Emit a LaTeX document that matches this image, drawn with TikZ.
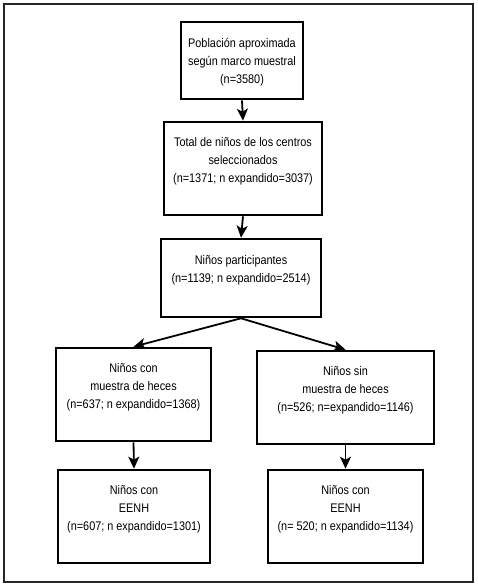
\documentclass[tikz,border=0pt]{standalone}
\usepackage{fontspec}
\setmainfont[FakeStretch=0.87]{Liberation Sans}
\usetikzlibrary{arrows.meta}
\begin{document}
\begin{tikzpicture}[x=1pt,y=-1pt,
  boxnode/.style={draw=black,line width=2.6pt,inner sep=0pt},
  txt/.style={align=center,font=\fontsize{12.5}{18}\selectfont,inner sep=0pt},
  arr/.style={line width=1.8pt,-{Stealth[length=12pt,width=11pt,inset=3pt]}}]
\useasboundingbox (0,0) rectangle (477,585);
\draw[line width=1.2pt,draw=black!85] (4,4) rectangle (473,582);
\node[boxnode,minimum width=122pt,minimum height=77pt] (b1) at (242,60.5) {};
\node[boxnode,minimum width=158pt,minimum height=93pt] (b2) at (243,168.5) {};
\node[boxnode,minimum width=160pt,minimum height=78pt] (b3) at (241,278) {};
\node[boxnode,minimum width=155pt,minimum height=93pt] (b4) at (133.5,394.5) {};
\node[boxnode,minimum width=177pt,minimum height=93pt] (b5) at (345.5,397.5) {};
\node[boxnode,minimum width=152pt,minimum height=93pt] (b6) at (134,516.5) {};
\node[boxnode,minimum width=155pt,minimum height=93pt] (b7) at (345.5,516.5) {};
\node[txt] (t1) at (242,62) {Población aproximada\\según marco muestral\\(n=3580)};
\node[txt] (t2) at (243,161) {Total de niños de los centros\\seleccionados\\(n=1371; n expandido=3037)};
\node[txt] (t3) at (241,270) {Niños participantes\\(n=1139; n expandido=2514)};
\node[txt] (t4) at (133.5,387) {Niños con\\muestra de heces\\(n=637; n expandido=1368)};
\node[txt] (t5) at (345.5,390) {Niños sin\\muestra de heces\\(n=526; n=expandido=1146)};
\node[txt] (t6) at (134,509) {Niños con\\EENH\\(n=607; n expandido=1301)};
\node[txt] (t7) at (345.5,509) {Niños con\\EENH\\(n= 520; n expandido=1134)};
\draw[arr] (b1.south) -- (b2.north);
\draw[arr] (b2.south) -- (b3.north);
\draw[arr] (b3.south) -- (b4.north);
\draw[arr] (b3.south) -- (b5.north);
\draw[arr] (b4.south) -- (b6.north);
\draw[arr] (b5.south) -- (b7.north);
\end{tikzpicture}
\end{document}
